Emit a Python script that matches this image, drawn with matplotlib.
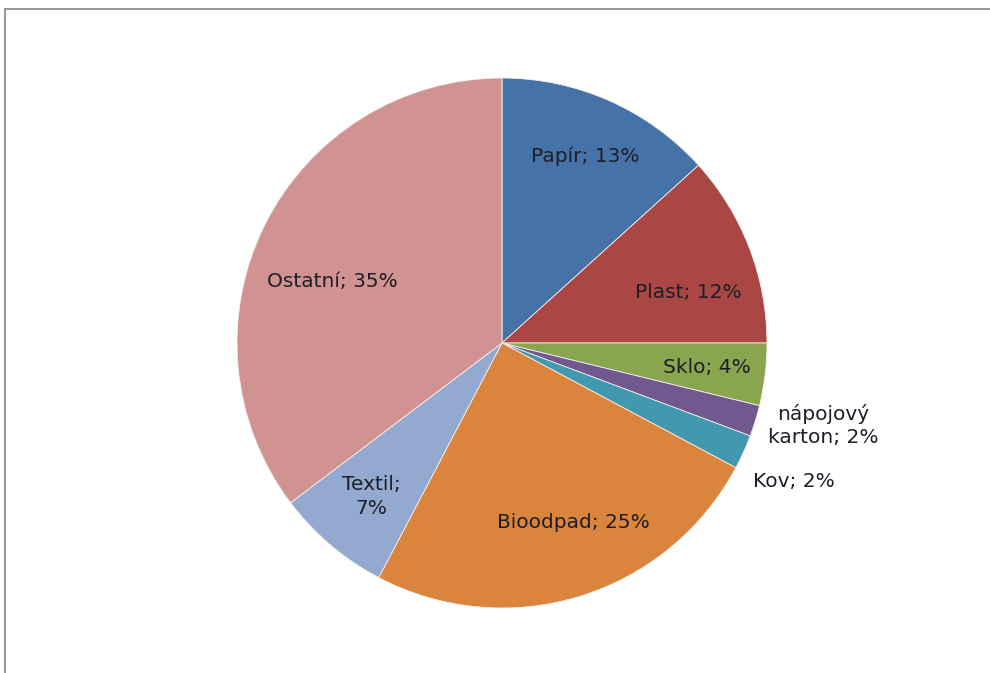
from matplotlib import pyplot as plt
from matplotlib.lines import Line2D
import numpy as np

plt.rcParams['font.family'] = ['DejaVu Sans']

categories = ['Papír', 'Plast', 'Sklo', 'nápojový karton', 'Kov', 'Bioodpad', 'Textil', 'Ostatní']
values = [13.3, 11.7, 3.8, 1.9, 2.1, 24.9, 7.0, 35.3]
label_texts = ['Papír; 13%', 'Plast; 12%', 'Sklo; 4%', 'nápojový\nkarton; 2%', 'Kov; 2%',
               'Bioodpad; 25%', 'Textil;\n7%', 'Ostatní; 35%']
colors = ['#4572A7', '#AA4643', '#89A54E', '#71588F', '#4198AF', '#DB843D', '#93A9CF', '#D19392']
# label placement: distance from centre (radii) and angle shift from slice middle (deg)
label_r = [0.77, 0.73, 0.78, 1.25, 1.22, 0.73, 0.76, 0.68]
label_shift = [0, -6, 0, 2.7, -1.1, 4.5, 0, 6.5]

W, H = 990, 673
cx, cy, R = 502, 343, 265

fig = plt.figure(figsize=(W / 100, H / 100), dpi=100)
fig.patch.set_facecolor('white')
ax = fig.add_axes([(cx - R) / W, (H - cy - R) / H, 2 * R / W, 2 * R / H])

wedges, _ = ax.pie(values, colors=colors, startangle=90, counterclock=False, radius=1,
                   wedgeprops={'edgecolor': '#f4f0ec', 'linewidth': 0.6})
ax.set_xlim(-1, 1)
ax.set_ylim(-1, 1)
ax.set_aspect('equal')
ax.axis('off')

for w, txt, r, sh in zip(wedges, label_texts, label_r, label_shift):
    mid = np.deg2rad((w.theta1 + w.theta2) / 2 + sh)
    ax.text(r * np.cos(mid), r * np.sin(mid), txt, ha='center', va='center',
            fontsize=14.5, color='#1e1e28', linespacing=1.3, clip_on=False)

# chart frame (top and left edges visible)
fig.add_artist(Line2D([5 / W, 5 / W], [0, 1 - 9 / H], transform=fig.transFigure,
                      color='#9a9a9a', linewidth=1.5))
fig.add_artist(Line2D([5 / W, 1], [1 - 9 / H, 1 - 9 / H], transform=fig.transFigure,
                      color='#9a9a9a', linewidth=1.5))

fig.savefig('out.png', dpi=100, facecolor='white')
